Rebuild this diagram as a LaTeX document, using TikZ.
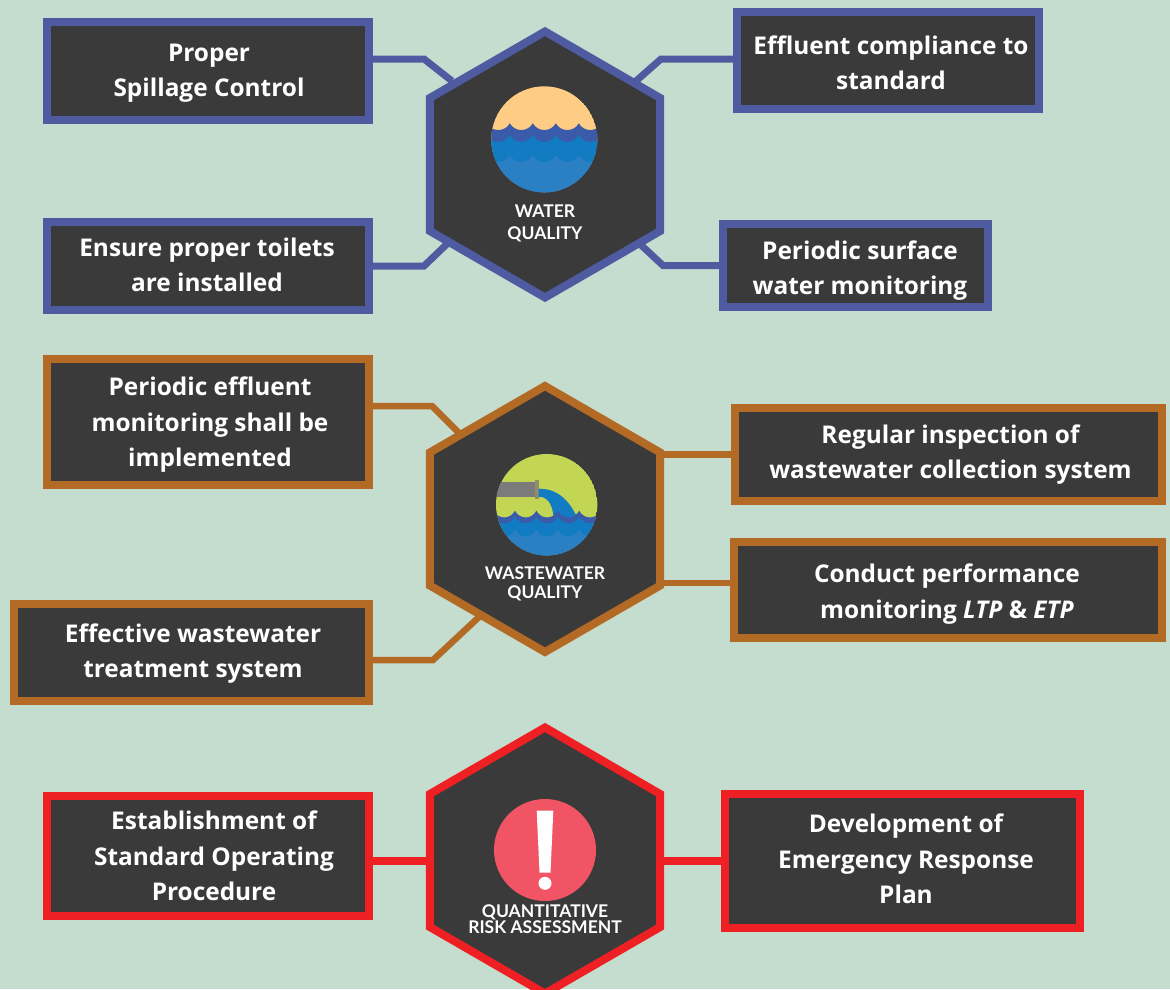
\documentclass[tikz,border=0pt]{standalone}
\usepackage{fontspec}
\setmainfont{Open Sans}
\newfontfamily\hexfont{Lato}
\usetikzlibrary{arrows,shapes}
\definecolor{pagegreen}{HTML}{C5DDCF}
\definecolor{boxdark}{HTML}{3A3A3A}
\definecolor{waterblue}{HTML}{4F5BA0}
\definecolor{wastebrown}{HTML}{B36A25}
\definecolor{riskred}{HTML}{EE2024}
\definecolor{sandtop}{HTML}{FFCC85}
\definecolor{waveband}{HTML}{3A5BA9}
\definecolor{wavemid}{HTML}{127CC2}
\definecolor{wavelow}{HTML}{2B80C4}
\definecolor{sludge}{HTML}{C2D653}
\definecolor{pipegrey}{HTML}{7B7B7B}
\definecolor{flange}{HTML}{8E8E6E}
\definecolor{alertpink}{HTML}{F15565}
\newcommand{\wavelayer}[4]{\fill [#1] (#3,#2) \foreach \k in {0,...,5} { .. controls (#3+\k*#4+#4*0.22,#2+9) and (#3+\k*#4+#4*0.78,#2+9) .. (#3+\k*#4+#4,#2) } -- (90,90) -- (-90,90) -- cycle;}
\begin{document}
\begin{tikzpicture}[x=1pt,y=-1pt,node distance=337pt,
hex/.style={
regular polygon,
regular polygon sides=6,
regular polygon rotate=30,
minimum size=266pt,
inner sep=0pt,
line width=8pt,
fill=boxdark
},
note/.style={
rectangle,
draw,
line width=8pt,
fill=boxdark,
inner sep=0pt
},
notetext/.style={
text=white,
align=center,
inner sep=0pt,
font=\bfseries\fontsize{24.4}{35.5}\selectfont
},
hexlabel/.style={
text=white,
align=center,
inner sep=0pt,
font=\hexfont\bfseries\fontsize{17.5}{22}\selectfont
},
waterlink/.style={draw=waterblue,line width=7pt},
wastelink/.style={draw=wastebrown,line width=6.5pt},
risklink/.style={draw=riskred,line width=8pt}]
\fill [pagegreen] (0,0) rectangle (1170,989);
\useasboundingbox (0,0) rectangle (1170,989);

\node (hexwater) [hex,draw=waterblue] at (545,164.5) {};
\node (hexwaste) [hex,draw=wastebrown,below of = hexwater, node distance=354.5pt] {};
\node (hexrisk) [hex,draw=riskred,below of = hexwaste, node distance=341.5pt] {};

\node (spill) [note,draw=waterblue,left of = hexwater,yshift=93.5pt,minimum width=322pt,minimum height=98pt,
label={[notetext,xshift=1pt,yshift=-2pt]center:Proper\\Spillage Control}] {};
\node (effluent) [note,draw=waterblue,right of = hexwater,node distance=343pt,yshift=104pt,minimum width=302pt,minimum height=97pt,
label={[notetext,xshift=3pt,yshift=-2.5pt]center:Effluent compliance to\\standard}] {};
\node (toilets) [note,draw=waterblue,left of = hexwater,yshift=-101.5pt,minimum width=322pt,minimum height=88pt,
label={[notetext,xshift=-1pt,yshift=1pt]center:Ensure proper toilets\\are installed}] {};
\node (surface) [note,draw=waterblue,right of = hexwater,node distance=310.5pt,yshift=-101pt,minimum width=265pt,minimum height=83pt,
label={[notetext,xshift=4.5pt,yshift=-5pt]center:Periodic surface\\water monitoring}] {};

\node (periodic) [note,draw=wastebrown,left of = hexwaste,yshift=97pt,minimum width=322pt,minimum height=126pt,
label={[notetext,xshift=2pt,yshift=-3pt]center:Periodic effluent\\monitoring shall be\\implemented}] {};
\node (inspection) [note,draw=wastebrown,right of = hexwaste,node distance=403.5pt,yshift=64.5pt,minimum width=427pt,minimum height=93pt,
label={[notetext,xshift=2pt]center:Regular inspection of\\wastewater collection system}] {};
\node (conduct) [note,draw=wastebrown,right of = hexwaste,node distance=403pt,yshift=-71pt,minimum width=428pt,minimum height=96pt,
label={[notetext,xshift=-1pt,yshift=-4pt]center:Conduct performance\\monitoring \textit{LTP} \& \textit{ETP}}] {};
\node (treatment) [note,draw=wastebrown,left of = hexwaste,node distance=353.5pt,yshift=-133.5pt,minimum width=355pt,minimum height=97pt,
label={[notetext,xshift=1.5pt,yshift=-1pt]center:Effective wastewater\\treatment system}] {};

\node (procedure) [note,draw=riskred,left of = hexrisk,yshift=4.5pt,minimum width=322pt,minimum height=120pt,
label={[notetext,xshift=6pt]center:Establishment of\\Standard Operating\\Procedure}] {};
\node (emergency) [note,draw=riskred,right of = hexrisk,node distance=357.5pt,minimum width=355pt,minimum height=134pt,
label={[notetext,xshift=3.5pt,yshift=1.5pt]center:Development of\\Emergency Response\\Plan}] {};

\coordinate (spillbend) at (424,59);
\coordinate (spillend) at (452,81);
\coordinate (effluentbend) at (661,59);
\coordinate (effluentend) at (636,81);
\coordinate (toiletsbend) at (424,266);
\coordinate (toiletsend) at (447,244);
\coordinate (surfacebend) at (663,265.5);
\coordinate (surfaceend) at (641,245);
\coordinate (periodicbend) at (432,406);
\coordinate (periodicend) at (459,433);
\coordinate (treatmentbend) at (433,660);
\coordinate (treatmentend) at (479,617);

\draw [waterlink] ([yshift=12pt]spill.east) -- (spillbend) -- (spillend);
\draw [waterlink] ([yshift=1.5pt]effluent.west) -- (effluentbend) -- (effluentend);
\draw [waterlink] (toilets.east) -- (toiletsbend) -- (toiletsend);
\draw [waterlink] (surface.west) -- (surfacebend) -- (surfaceend);
\draw [wastelink] ([yshift=16pt]periodic.east) -- (periodicbend) -- (periodicend);
\draw [wastelink] (inspection.west) -- (inspection.west -| hexwaste.east);
\draw [wastelink] ([yshift=7pt]conduct.west) -- ([yshift=7pt]conduct.west -| hexwaste.east);
\draw [wastelink] ([yshift=-7.5pt]treatment.east) -- (treatmentbend) -- (treatmentend);
\draw [risklink] (hexrisk.west) -- (hexrisk.west -| procedure.east);
\draw [risklink] (hexrisk.east) -- (hexrisk.east -| emergency.west);

\node (waterlabel) [hexlabel,below of = hexwater,node distance=58.5pt] {WATER\\QUALITY};
\node (wastelabel) [hexlabel,below of = hexwaste,node distance=64.5pt,font=\hexfont\bfseries\fontsize{17.5}{19}\selectfont] {WASTEWATER\\QUALITY};
\node (risklabel) [hexlabel,below of = hexrisk,node distance=59pt,font=\hexfont\bfseries\fontsize{17.5}{16}\selectfont] {QUANTITATIVE\\RISK ASSESSMENT};

\begin{scope}[shift={(544.3,139.3)}]
\clip (0,0) circle (53);
\fill [sandtop] (0,0) circle (53);
\wavelayer{waveband}{-16}{-80.5}{23}
\wavelayer{wavemid}{-4}{-80.5}{23}
\wavelayer{wavelow}{16}{-80.5}{23}
\end{scope}

\begin{scope}[shift={(546.7,504.7)}]
\clip (0,0) circle (50.7);
\fill [sludge] (0,0) circle (50.7);
\fill [pipegrey] (-60,-23) rectangle (-12,-8);
\fill [flange] (-12,-25) rectangle (-8,-6);
\fill [wavemid] (-8,-16) .. controls (10,-16) and (22,-6) .. (31,14) -- (7,14) .. controls (6,-2) and (0,-8) .. (-8,-8) -- cycle;
\wavelayer{waveband}{6}{-74.5}{21.4}
\wavelayer{wavemid}{12}{-74.5}{21.4}
\wavelayer{wavelow}{25}{-74.5}{21.4}
\end{scope}

\begin{scope}[shift={(545,850)}]
\fill [alertpink] (0,0) circle (51);
\fill [white] (-8.3,-39.3) -- (8.3,-39.3) -- (5.5,22.7) -- (-5.5,22.7) -- cycle;
\fill [white] (0,33.3) circle (6.5);
\end{scope}
\end{tikzpicture}
\end{document}
